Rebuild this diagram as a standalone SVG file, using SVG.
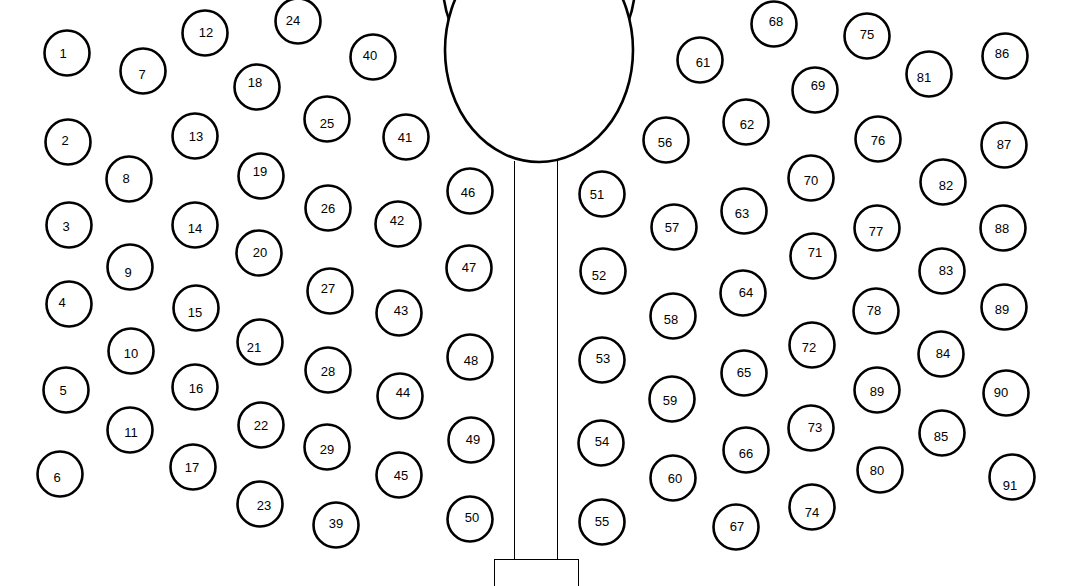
<svg xmlns="http://www.w3.org/2000/svg" width="1077" height="586" viewBox="0 0 1077 586">
<style>
.n circle{fill:#fff;stroke:#000;stroke-width:2.6}
.n text{font-family:"Liberation Sans",Arial,sans-serif;font-size:13px;fill:#000;text-anchor:middle}
.thin{fill:none;stroke:#000;stroke-width:1}
</style>
<rect width="1077" height="586" fill="#fff"/>
<g id="stand">
<ellipse cx="539" cy="-15" rx="96" ry="100" fill="none" stroke="#000" stroke-width="2.6"/>
<ellipse cx="539" cy="50" rx="94" ry="112" fill="#fff" stroke="#000" stroke-width="2.6"/>
<line class="thin" x1="514.5" y1="161" x2="514.5" y2="559.5"/>
<line class="thin" x1="557.5" y1="161" x2="557.5" y2="559.5"/>
<rect class="thin" x="494.5" y="559.5" width="84" height="40"/>
</g>
<g id="connectors"></g>
<g id="n1" class="n"><circle cx="67" cy="53" r="22.5"/><text x="63" y="58">1</text></g>
<g id="n2" class="n"><circle cx="68" cy="142" r="22.5"/><text x="65" y="145">2</text></g>
<g id="n3" class="n"><circle cx="69" cy="225" r="22.5"/><text x="66" y="231">3</text></g>
<g id="n4" class="n"><circle cx="69" cy="304" r="22.5"/><text x="62" y="307">4</text></g>
<g id="n5" class="n"><circle cx="66" cy="390" r="22.5"/><text x="63" y="395">5</text></g>
<g id="n6" class="n"><circle cx="60" cy="474" r="22.5"/><text x="57" y="482">6</text></g>
<g id="n7" class="n"><circle cx="143" cy="71" r="22.5"/><text x="142" y="79">7</text></g>
<g id="n8" class="n"><circle cx="129" cy="179" r="22.5"/><text x="126" y="183">8</text></g>
<g id="n9" class="n"><circle cx="130" cy="267" r="22.5"/><text x="128" y="277">9</text></g>
<g id="n10" class="n"><circle cx="131" cy="351" r="22.5"/><text x="131" y="358">10</text></g>
<g id="n11" class="n"><circle cx="130" cy="430" r="22.5"/><text x="131" y="437">11</text></g>
<g id="n12" class="n"><circle cx="205" cy="33" r="22.5"/><text x="206" y="37">12</text></g>
<g id="n13" class="n"><circle cx="195" cy="136" r="22.5"/><text x="196" y="141">13</text></g>
<g id="n14" class="n"><circle cx="195" cy="225" r="22.5"/><text x="195" y="233">14</text></g>
<g id="n15" class="n"><circle cx="196" cy="308" r="22.5"/><text x="195" y="317">15</text></g>
<g id="n16" class="n"><circle cx="195" cy="387" r="22.5"/><text x="196" y="393">16</text></g>
<g id="n17" class="n"><circle cx="193" cy="467" r="22.5"/><text x="192" y="472">17</text></g>
<g id="n18" class="n"><circle cx="257" cy="87" r="22.5"/><text x="255" y="87">18</text></g>
<g id="n19" class="n"><circle cx="261" cy="176" r="22.5"/><text x="260" y="176">19</text></g>
<g id="n20" class="n"><circle cx="259" cy="253" r="22.5"/><text x="260" y="257">20</text></g>
<g id="n21" class="n"><circle cx="260" cy="342" r="22.5"/><text x="254" y="352">21</text></g>
<g id="n22" class="n"><circle cx="261" cy="425" r="22.5"/><text x="261" y="430">22</text></g>
<g id="n23" class="n"><circle cx="260" cy="504" r="22.5"/><text x="264" y="510">23</text></g>
<g id="n24" class="n"><circle cx="298" cy="21" r="22.5"/><text x="293" y="25">24</text></g>
<g id="n25" class="n"><circle cx="327" cy="119" r="22.5"/><text x="327" y="128">25</text></g>
<g id="n26" class="n"><circle cx="328" cy="208" r="22.5"/><text x="328" y="213">26</text></g>
<g id="n27" class="n"><circle cx="330" cy="291" r="22.5"/><text x="328" y="293">27</text></g>
<g id="n28" class="n"><circle cx="328" cy="370" r="22.5"/><text x="328" y="376">28</text></g>
<g id="n29" class="n"><circle cx="327" cy="447" r="22.5"/><text x="327" y="454">29</text></g>
<g id="n39" class="n"><circle cx="336" cy="525" r="22.5"/><text x="336" y="528">39</text></g>
<g id="n40" class="n"><circle cx="373" cy="57" r="22.5"/><text x="370" y="60">40</text></g>
<g id="n41" class="n"><circle cx="406" cy="137" r="22.5"/><text x="405" y="142">41</text></g>
<g id="n42" class="n"><circle cx="398" cy="224" r="22.5"/><text x="397" y="225">42</text></g>
<g id="n43" class="n"><circle cx="399" cy="313" r="22.5"/><text x="401" y="315">43</text></g>
<g id="n44" class="n"><circle cx="400" cy="396" r="22.5"/><text x="403" y="397">44</text></g>
<g id="n45" class="n"><circle cx="399" cy="475" r="22.5"/><text x="401" y="480">45</text></g>
<g id="n46" class="n"><circle cx="470" cy="191" r="22.5"/><text x="468" y="197">46</text></g>
<g id="n47" class="n"><circle cx="469" cy="268" r="22.5"/><text x="469" y="272">47</text></g>
<g id="n48" class="n"><circle cx="470" cy="357" r="22.5"/><text x="471" y="365">48</text></g>
<g id="n49" class="n"><circle cx="471" cy="440" r="22.5"/><text x="473" y="444">49</text></g>
<g id="n50" class="n"><circle cx="470" cy="519" r="22.5"/><text x="472" y="522">50</text></g>
<g id="n51" class="n"><circle cx="602" cy="194" r="22.5"/><text x="597" y="199">51</text></g>
<g id="n52" class="n"><circle cx="603" cy="271" r="22.5"/><text x="599" y="280">52</text></g>
<g id="n53" class="n"><circle cx="602" cy="360" r="22.5"/><text x="603" y="363">53</text></g>
<g id="n54" class="n"><circle cx="601" cy="443" r="22.5"/><text x="602" y="446">54</text></g>
<g id="n55" class="n"><circle cx="602" cy="522" r="22.5"/><text x="602" y="526">55</text></g>
<g id="n56" class="n"><circle cx="666" cy="140" r="22.5"/><text x="665" y="147">56</text></g>
<g id="n57" class="n"><circle cx="674" cy="227" r="22.5"/><text x="672" y="232">57</text></g>
<g id="n58" class="n"><circle cx="673" cy="316" r="22.5"/><text x="671" y="324">58</text></g>
<g id="n59" class="n"><circle cx="672" cy="399" r="22.5"/><text x="670" y="405">59</text></g>
<g id="n60" class="n"><circle cx="673" cy="478" r="22.5"/><text x="675" y="483">60</text></g>
<g id="n61" class="n"><circle cx="700" cy="60" r="22.5"/><text x="703" y="67">61</text></g>
<g id="n62" class="n"><circle cx="746" cy="122" r="22.5"/><text x="747" y="129">62</text></g>
<g id="n63" class="n"><circle cx="744" cy="211" r="22.5"/><text x="742" y="218">63</text></g>
<g id="n64" class="n"><circle cx="743" cy="293" r="22.5"/><text x="746" y="297">64</text></g>
<g id="n65" class="n"><circle cx="744" cy="373" r="22.5"/><text x="744" y="377">65</text></g>
<g id="n66" class="n"><circle cx="746" cy="450" r="22.5"/><text x="746" y="458">66</text></g>
<g id="n67" class="n"><circle cx="736" cy="527" r="22.5"/><text x="737" y="531">67</text></g>
<g id="n68" class="n"><circle cx="774" cy="24" r="22.5"/><text x="776" y="26">68</text></g>
<g id="n69" class="n"><circle cx="815" cy="90" r="22.5"/><text x="818" y="90">69</text></g>
<g id="n70" class="n"><circle cx="811" cy="178" r="22.5"/><text x="811" y="185">70</text></g>
<g id="n71" class="n"><circle cx="813" cy="256" r="22.5"/><text x="815" y="257">71</text></g>
<g id="n72" class="n"><circle cx="812" cy="345" r="22.5"/><text x="809" y="352">72</text></g>
<g id="n73" class="n"><circle cx="811" cy="428" r="22.5"/><text x="815" y="432">73</text></g>
<g id="n74" class="n"><circle cx="812" cy="507" r="22.5"/><text x="812" y="517">74</text></g>
<g id="n75" class="n"><circle cx="867" cy="36" r="22.5"/><text x="867" y="39">75</text></g>
<g id="n76" class="n"><circle cx="878" cy="139" r="22.5"/><text x="878" y="145">76</text></g>
<g id="n77" class="n"><circle cx="877" cy="228" r="22.5"/><text x="876" y="236">77</text></g>
<g id="n78" class="n"><circle cx="876" cy="311" r="22.5"/><text x="874" y="315">78</text></g>
<g id="n79" class="n"><circle cx="877" cy="390" r="22.5"/><text x="877" y="396">89</text></g>
<g id="n80" class="n"><circle cx="880" cy="470" r="22.5"/><text x="877" y="475">80</text></g>
<g id="n81" class="n"><circle cx="929" cy="74" r="22.5"/><text x="924" y="82">81</text></g>
<g id="n82" class="n"><circle cx="943" cy="182" r="22.5"/><text x="946" y="190">82</text></g>
<g id="n83" class="n"><circle cx="942" cy="271" r="22.5"/><text x="946" y="275">83</text></g>
<g id="n84" class="n"><circle cx="941" cy="354" r="22.5"/><text x="943" y="358">84</text></g>
<g id="n85" class="n"><circle cx="942" cy="433" r="22.5"/><text x="941" y="441">85</text></g>
<g id="n86" class="n"><circle cx="1005" cy="56" r="22.5"/><text x="1002" y="58">86</text></g>
<g id="n87" class="n"><circle cx="1004" cy="145" r="22.5"/><text x="1004" y="149">87</text></g>
<g id="n88" class="n"><circle cx="1003" cy="228" r="22.5"/><text x="1002" y="233">88</text></g>
<g id="n89" class="n"><circle cx="1004" cy="307" r="22.5"/><text x="1002" y="314">89</text></g>
<g id="n90" class="n"><circle cx="1006" cy="393" r="22.5"/><text x="1001" y="397">90</text></g>
<g id="n91" class="n"><circle cx="1012" cy="477" r="22.5"/><text x="1010" y="490">91</text></g>
</svg>
